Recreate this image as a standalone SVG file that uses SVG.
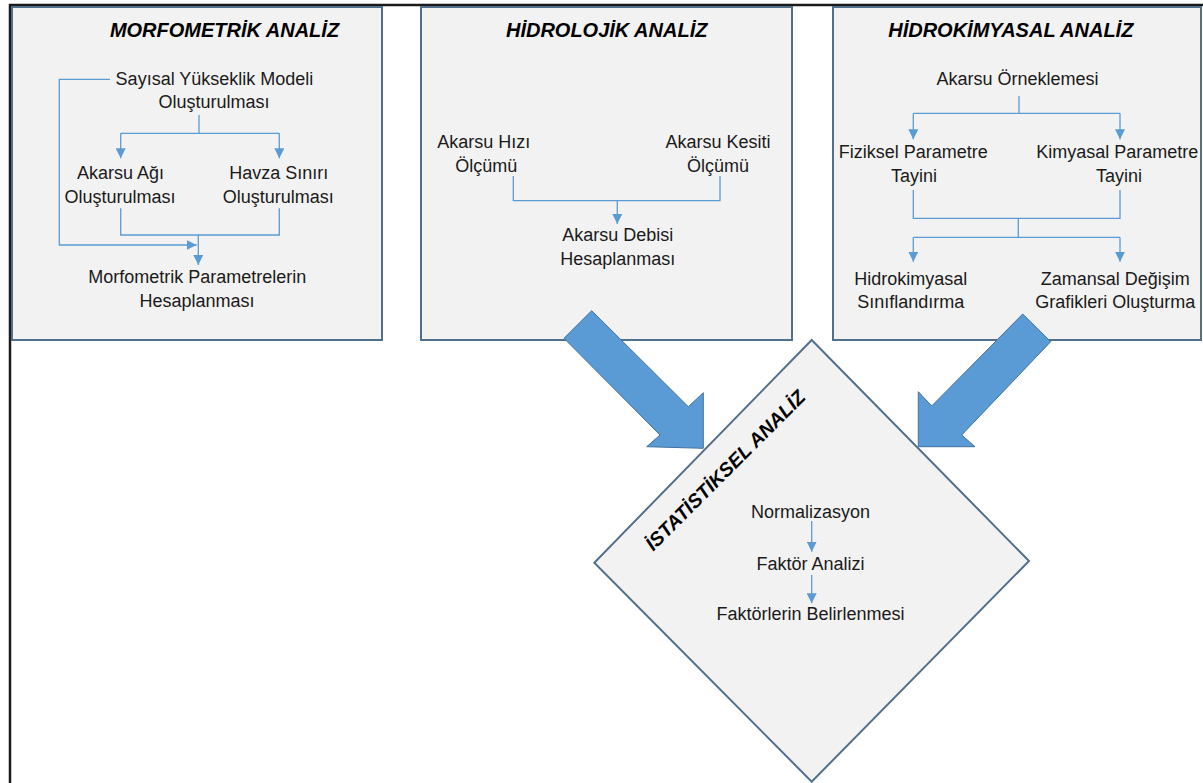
<svg xmlns="http://www.w3.org/2000/svg" width="1203" height="783" viewBox="0 0 1203 783">
<defs>
<style>
.box{fill:#f2f2f2;stroke:#52708c;stroke-width:2}
.t{font-family:"Liberation Sans",Arial,sans-serif;font-size:18px;fill:#1a1a1a;text-anchor:middle}
.h{font-family:"Liberation Sans",Arial,sans-serif;font-size:20px;font-weight:bold;font-style:italic;fill:#000;text-anchor:middle}
.c{fill:none;stroke:#5b9bd5;stroke-width:1.3}
.big{fill:#5b9bd5;stroke:#41719c;stroke-width:1}
</style>
<marker id="ah" viewBox="0 0 10 10" refX="10" refY="5" markerWidth="10" markerHeight="10" markerUnits="userSpaceOnUse" orient="auto"><path d="M0,0 L10,5 L0,10 z" fill="#5b9bd5"/></marker>
</defs>
<rect width="1203" height="783" fill="#fff"/>
<g id="frame"><path d="M1203,5 H10 V783" fill="none" stroke="#1a1a1a" stroke-width="2.5"/></g>

<g id="morfometrik">
<rect class="box" x="12" y="7" width="370" height="333"/>
<text class="h" x="224.5" y="36.5">MORFOMETRİK ANALİZ</text>
<text class="t" x="214.5" y="85">Sayısal Yükseklik Modeli</text>
<text class="t" x="214" y="108">Oluşturulması</text>
<text class="t" x="120.5" y="179.3">Akarsu Ağı</text>
<text class="t" x="120" y="202.7">Oluşturulması</text>
<text class="t" x="278.7" y="179.3">Havza Sınırı</text>
<text class="t" x="278.2" y="202.7">Oluşturulması</text>
<text class="t" x="197.2" y="283.3">Morfometrik Parametrelerin</text>
<text class="t" x="197" y="306.7">Hesaplanması</text>
</g>

<g id="hidrolojik">
<rect class="box" x="421" y="7" width="371" height="333"/>
<text class="h" x="606.7" y="36.5">HİDROLOJİK ANALİZ</text>
<text class="t" x="483.8" y="148.3">Akarsu Hızı</text>
<text class="t" x="486.3" y="171.7">Ölçümü</text>
<text class="t" x="718" y="148.3">Akarsu Kesiti</text>
<text class="t" x="718" y="171.7">Ölçümü</text>
<text class="t" x="617.7" y="240.7">Akarsu Debisi</text>
<text class="t" x="617.8" y="265">Hesaplanması</text>
</g>

<g id="hidrokimyasal">
<rect class="box" x="833" y="7" width="368" height="333"/>
<text class="h" x="1010.8" y="36.5">HİDROKİMYASAL ANALİZ</text>
<text class="t" x="1017.5" y="85">Akarsu Örneklemesi</text>
<text class="t" x="913.3" y="158.3">Fiziksel Parametre</text>
<text class="t" x="914" y="181.7">Tayini</text>
<text class="t" x="1117.2" y="158.3">Kimyasal Parametre</text>
<text class="t" x="1119" y="181.7">Tayini</text>
<text class="t" x="910.8" y="285">Hidrokimyasal</text>
<text class="t" x="910.8" y="308.3">Sınıflandırma</text>
<text class="t" x="1115.3" y="285">Zamansal Değişim</text>
<text class="t" x="1115.3" y="308.3">Grafikleri Oluşturma</text>
</g>

<g id="istatistiksel">
<path class="box" d="M811.7,340 L1029,561 L811.7,781.7 L594.3,562.7 Z"/>
<text class="h" font-size="19.5" transform="translate(730,475) rotate(-45)" x="0" y="0" style="font-size:19.5px">İSTATİSTİKSEL ANALİZ</text>
<text class="t" x="810.5" y="517.7">Normalizasyon</text>
<text class="t" x="810.5" y="570">Faktör Analizi</text>
<text class="t" x="810.5" y="620">Faktörlerin Belirlenmesi</text>
</g>

<g id="connectors">
<!-- morfometrik -->
<path class="c" d="M199,115 V133.3"/>
<path class="c" d="M120.7,133.3 H279.3"/>
<path class="c" d="M120.7,133.3 V158.3" marker-end="url(#ah)"/>
<path class="c" d="M279.3,133.3 V158.3" marker-end="url(#ah)"/>
<path class="c" d="M110,79.3 H59.3 V245 H196.7" marker-end="url(#ah)"/>
<path class="c" d="M120.7,208.3 V235 H279.3 V208.3"/>
<path class="c" d="M198.3,235 V265" marker-end="url(#ah)"/>
<!-- hidrolojik -->
<path class="c" d="M513.3,176 V200.7 H720 V176"/>
<path class="c" d="M617.3,200.7 V224" marker-end="url(#ah)"/>
<!-- hidrokimyasal -->
<path class="c" d="M1019,96 V113.3"/>
<path class="c" d="M913.3,113.3 H1120"/>
<path class="c" d="M913.3,113.3 V139.3" marker-end="url(#ah)"/>
<path class="c" d="M1120,113.3 V139.3" marker-end="url(#ah)"/>
<path class="c" d="M913.3,190 V218.3 H1120 V190"/>
<path class="c" d="M1018.3,218.3 V237.3"/>
<path class="c" d="M913.3,237.3 H1120"/>
<path class="c" d="M913.3,237.3 V261.7" marker-end="url(#ah)"/>
<path class="c" d="M1120,237.3 V261.7" marker-end="url(#ah)"/>
<!-- istatistiksel -->
<path class="c" d="M811.7,521 V551.7" marker-end="url(#ah)"/>
<path class="c" d="M811.7,575 V603.3" marker-end="url(#ah)"/>
<!-- big block arrows -->
<path class="big" d="M591.7,310.7 L688.3,406.7 L703.3,392.7 L703.3,448.3 L646.7,446.7 L660,435 L564,338.3 Z"/>
<path class="big" d="M1022.7,314 L1050.7,341.7 L961.7,435 L975,446.7 L918.3,446.7 L918.3,391.7 L931.7,406 Z"/>
</g>
</svg>
